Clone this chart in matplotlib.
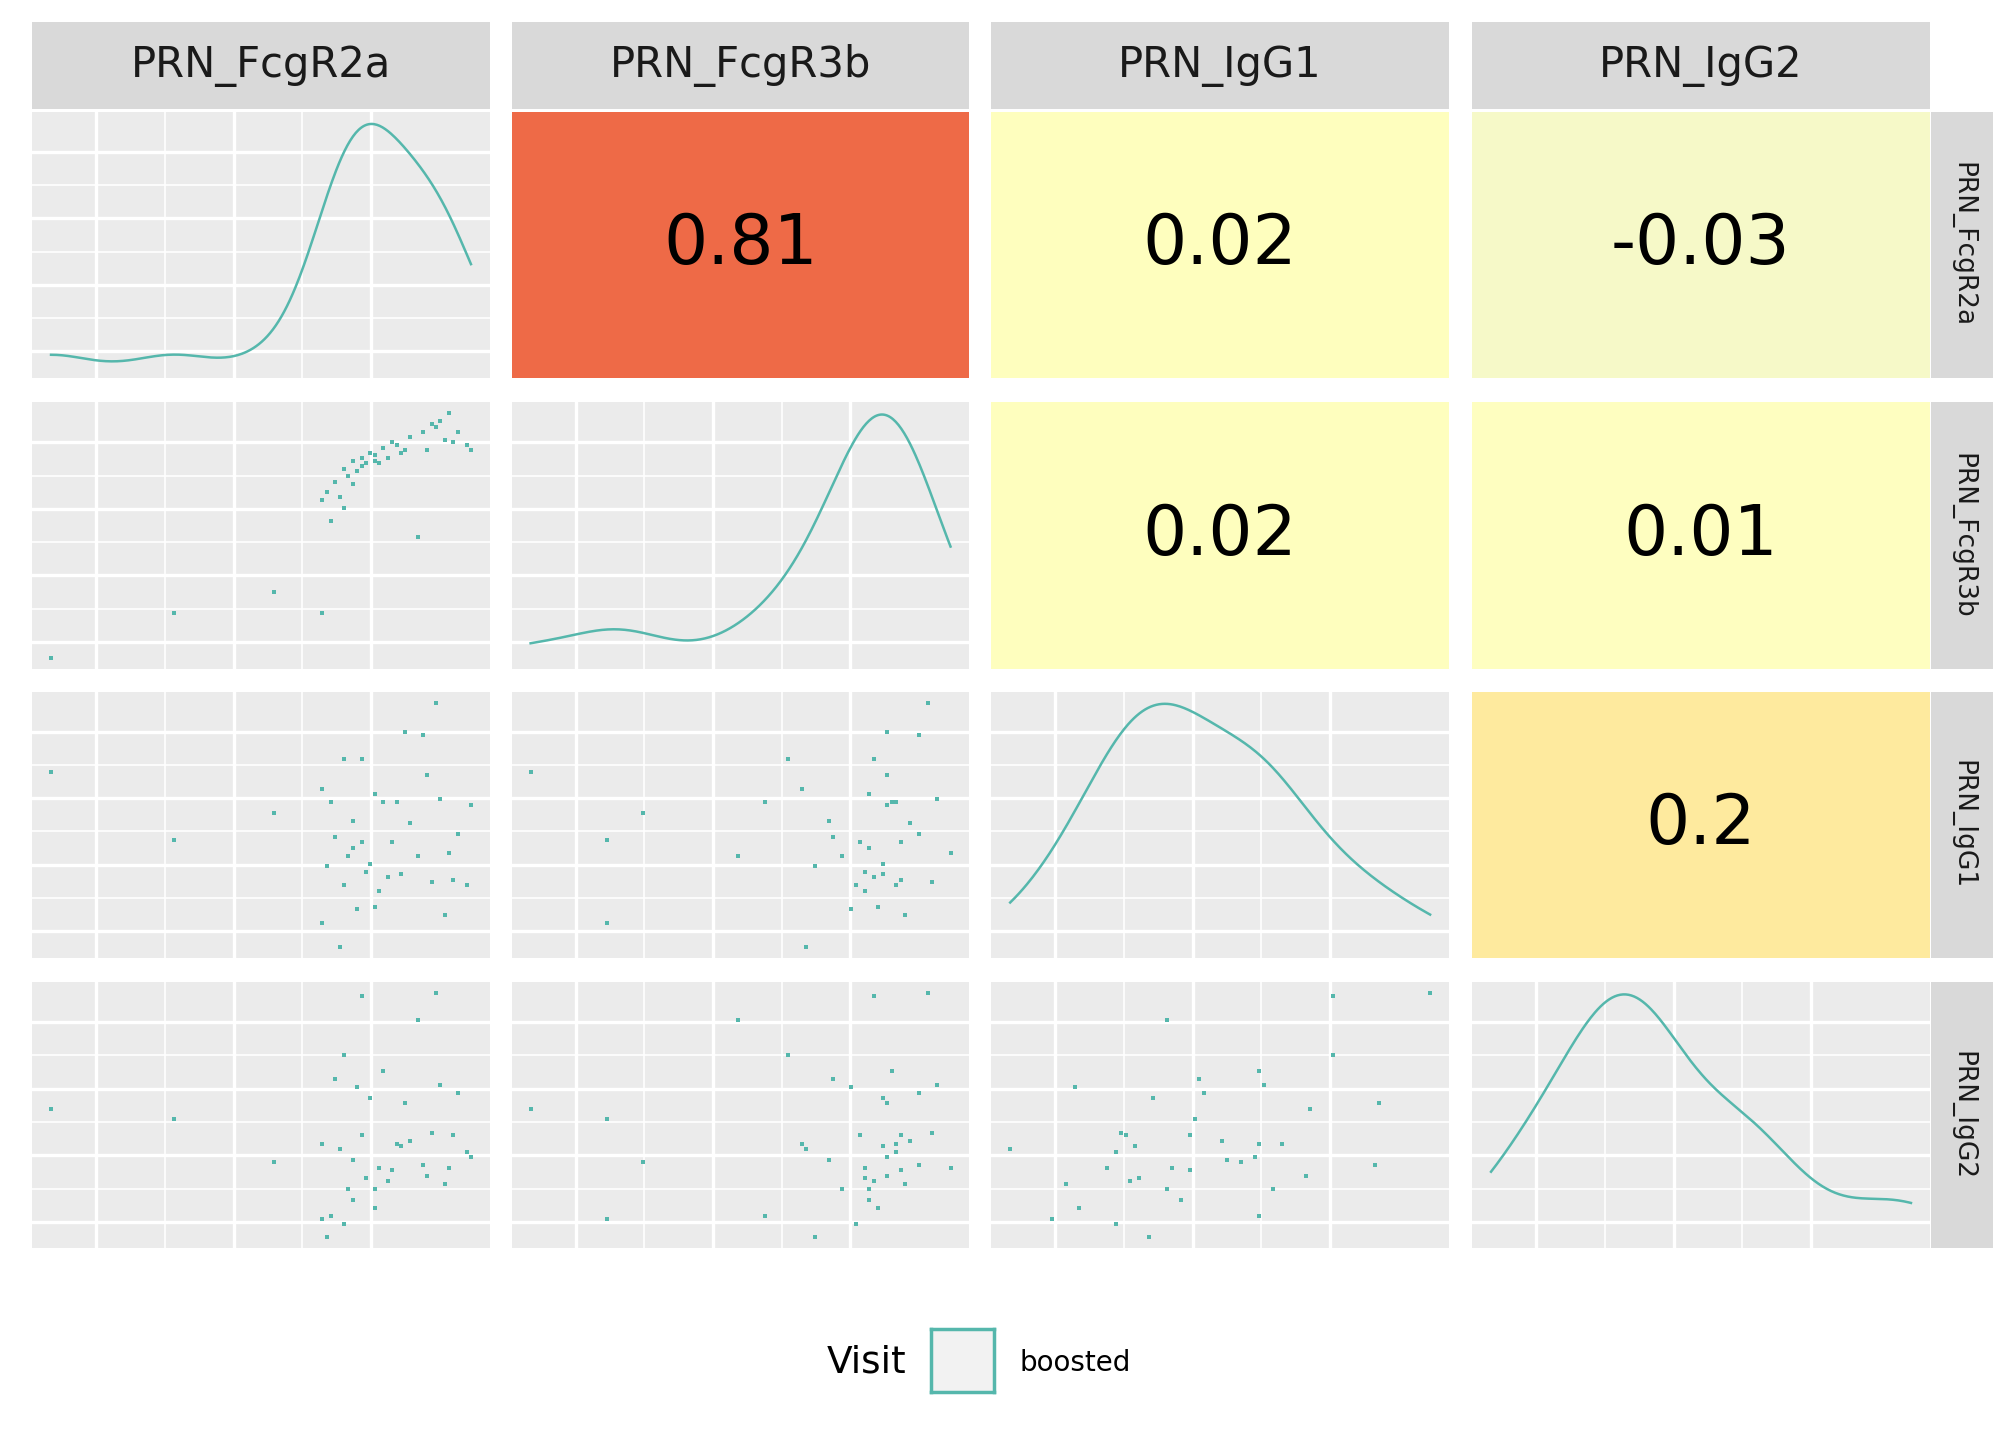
import numpy as np
import matplotlib
matplotlib.use("Agg")
import matplotlib.pyplot as plt
from matplotlib.patches import Rectangle

variables = ["PRN_FcgR2a", "PRN_FcgR3b", "PRN_IgG1", "PRN_IgG2"]
# per-observation values (arbitrary 0-10 scale)
FcgR2a = [0.4, 3.2, 5.5, 6.6, 6.6, 6.7, 6.8, 6.9, 7.0, 7.1, 7.1, 7.2, 7.3, 7.3, 7.4,
          7.5, 7.5, 7.6, 7.7, 7.8, 7.9, 8.0, 8.1, 8.2, 8.3, 8.5, 8.6, 8.8, 8.9, 9.0,
          9.1, 9.2, 9.3, 9.4, 9.5, 9.6, 9.7, 9.9, 10.0, 8.4, 7.8]
FcgR3b = [0.4, 2.1, 2.9, 2.1, 6.4, 6.7, 5.6, 7.1, 6.5, 7.6, 6.1, 7.3, 7.9, 7.0, 7.5,
          7.7, 8.0, 7.8, 8.2, 8.1, 7.8, 8.4, 8.0, 8.6, 8.5, 8.3, 8.8, 5.0, 9.0, 8.3,
          9.3, 9.2, 9.4, 8.7, 9.7, 8.6, 9.0, 8.5, 8.3, 8.2, 7.9]
IgG1 = [7.0, 4.5, 5.5, 1.4, 6.4, 3.5, 5.9, 4.6, 0.5, 2.8, 7.5, 3.9, 4.2, 5.2, 1.9,
        4.4, 7.5, 3.3, 3.6, 2.0, 2.6, 5.9, 3.1, 4.4, 5.9, 8.5, 5.1, 3.9, 8.4, 6.9,
        2.9, 9.6, 6.0, 1.7, 4.0, 3.0, 4.7, 2.8, 5.8, 3.2, 6.2]
IgG2 = [5.2, 4.8, 3.2, 1.1, 3.9, 0.4, 1.2, 6.3, 3.7, 0.9, 7.2, 2.2, 1.8, 3.3, 6.0,
        4.2, 9.4, 2.6, 5.6, 1.5, 3.0, 6.6, 2.5, 2.9, 3.9, 5.4, 4.0, 8.5, 3.1, 2.7,
        4.3, 9.5, 6.1, 2.4, 3.0, 4.2, 5.8, 3.6, 3.4, 3.8, 2.2]
corr_labels = {(0, 1): "0.81", (0, 2): "0.02", (0, 3): "-0.03",
               (1, 2): "0.02", (1, 3): "0.01", (2, 3): "0.2"}
corr_colors = {(0, 1): "#EE6A47", (0, 2): "#FEFEBE", (0, 3): "#F6F9C8",
               (1, 2): "#FEFEBE", (1, 3): "#FEFEC0", (2, 3): "#FEEA9E"}
legend_title = "Visit"
legend_label = "boosted"

data = [np.array(FcgR2a), np.array(FcgR3b), np.array(IgG1), np.array(IgG2)]
teal = "#55B7AC"
W, H = 1568, 1120
fig = plt.figure(figsize=(20.16, 14.4), dpi=100)

lefts = [25, 398, 771, 1145]
tops = [87, 313, 538, 764]
pw, ph = 356, 207

def box(x, y, w, h):
    return [x / W, 1 - (y + h) / H, w / W, h / H]

def style(ax, lo, hi):
    ax.set_facecolor("#EBEBEB")
    span = hi - lo
    major = np.linspace(lo + span * 0.14, hi - span * 0.0, 4)
    major = np.arange(lo + span * 0.14, hi, span * 0.3)
    minor = major - span * 0.15
    for m in minor:
        ax.axvline(m, color="white", lw=1.2, zorder=0)
    for m in major:
        ax.axvline(m, color="white", lw=2.4, zorder=0)
    ax.set_xlim(lo, hi)
    ax.set_xticks([]); ax.set_yticks([])
    for s in ax.spines.values():
        s.set_visible(False)

def hgrid(ax, lo, hi):
    span = hi - lo
    major = np.arange(lo + span * 0.1, hi, span * 0.25)
    for m in major - span * 0.125:
        ax.axhline(m, color="white", lw=1.2, zorder=0)
    for m in major:
        ax.axhline(m, color="white", lw=2.4, zorder=0)
    ax.set_ylim(lo, hi)

lims = []
for v in data:
    r = v.max() - v.min()
    lims.append((v.min() - 0.045 * r, v.max() + 0.045 * r))

for i in range(4):
    for j in range(4):
        ax = fig.add_axes(box(lefts[j], tops[i], pw, ph))
        if i == j:
            v = data[i]
            bw = 1.06 * v.std() * len(v) ** (-0.2) * 0.9
            xs = np.linspace(v.min(), v.max(), 300)
            dens = np.exp(-0.5 * ((xs[:, None] - v[None, :]) / bw) ** 2).sum(1)
            style(ax, *lims[j])
            top = dens.max()
            hgrid(ax, -0.05 * top, top * 1.05)
            ax.plot(xs, dens, color=teal, lw=1.8)
        elif i > j:
            style(ax, *lims[j])
            hgrid(ax, *lims[i])
            ax.scatter(data[j], data[i], s=5, marker="s", color=teal, lw=0)
        else:
            ax.set_facecolor(corr_colors[(i, j)])
            ax.set_xticks([]); ax.set_yticks([])
            for s in ax.spines.values():
                s.set_visible(False)
            ax.text(0.5, 0.5, corr_labels[(i, j)], ha="center", va="center",
                    fontsize=50, transform=ax.transAxes)
        if i == 0:
            sx = fig.add_axes(box(lefts[j], 17, pw, 68))
            sx.set_facecolor("#D9D9D9"); sx.set_xticks([]); sx.set_yticks([])
            for s in sx.spines.values(): s.set_visible(False)
            sx.text(0.5, 0.5, variables[j], ha="center", va="center", fontsize=30,
                    color="#1A1A1A", transform=sx.transAxes)
    sy = fig.add_axes(box(1502, tops[i], 48, ph))
    sy.set_facecolor("#D9D9D9"); sy.set_xticks([]); sy.set_yticks([])
    for s in sy.spines.values(): s.set_visible(False)
    sy.text(0.5, 0.5, variables[i], ha="center", va="center", fontsize=19,
            rotation=-90, color="#1A1A1A", transform=sy.transAxes)

fig.text(705 / W, 1 - 1060 / H, legend_title, ha="right", va="center", fontsize=27)
lg = fig.add_axes(box(724, 1034, 49, 49))
lg.set_xticks([]); lg.set_yticks([])
lg.set_facecolor("#F2F2F2")
for s in lg.spines.values():
    s.set_color(teal); s.set_linewidth(2.5)
fig.text(793 / W, 1 - 1060 / H, legend_label, ha="left", va="center", fontsize=20)

fig.savefig("out.png", dpi=100, facecolor="white")
